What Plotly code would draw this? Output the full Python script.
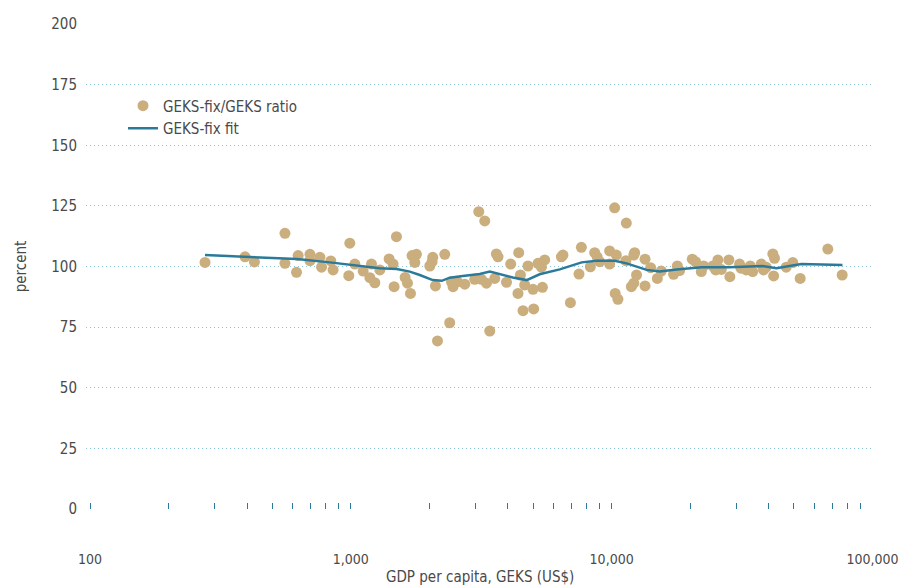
import numpy as np
import plotly.graph_objects as go

# GDP per capita (GEKS, US$) and the GEKS-fix / GEKS ratio (percent), one entry per economy
gdp = [
    276, 393, 427, 559, 559, 619, 628, 697, 697, 761,
    772, 838, 855, 991, 982, 1036, 1115, 1200, 1183, 1236,
    1292, 1402, 1452, 1496, 1465, 1615, 1649, 1693, 1717, 1785,
    1759, 2008, 2061, 2049, 2111, 2149, 2292, 2394, 2466, 2431,
    2563, 2735, 2986, 3094, 3262, 3168, 3311, 3410, 3615, 3667,
    3562, 3952, 4102, 4403, 4469, 4642, 4375, 4573, 4995, 5024,
    4778, 5220, 5428, 5380, 5538, 6507, 6416, 6949, 7495, 7655,
    8287, 8609, 8799, 8995, 9824, 9824, 10268, 10424, 10320, 10570,
    11383, 11340, 12250, 12160, 12460, 11900, 12160, 13430, 13430, 14110,
    14970, 15500, 17280, 17860, 18220, 20380, 20980, 22070, 22520, 24440,
    25550, 25060, 26330, 28150, 28400, 30940, 31310, 32820, 34000, 34740,
    37460, 38230, 39150, 41500, 42120, 41800, 46700, 49500, 52840, 67430,
    76550,
]
ratio = [
    101.7, 104.0, 101.9, 113.7, 101.3, 97.6, 104.5, 105.0, 102.4, 103.8,
    99.7, 102.3, 98.6, 109.6, 96.2, 101.0, 98.1, 101.0, 95.4, 93.3,
    98.6, 103.1, 101.0, 112.3, 91.7, 95.5, 93.1, 88.9, 104.5, 105.0,
    101.7, 100.2, 103.8, 102.0, 92.0, 69.3, 105.0, 76.8, 91.7, 93.7,
    93.7, 92.7, 94.7, 122.6, 118.8, 94.7, 93.1, 73.4, 105.2, 104.0,
    95.1, 93.5, 101.0, 105.7, 96.5, 92.4, 88.9, 81.8, 90.6, 82.5,
    100.2, 101.3, 91.4, 99.7, 102.7, 104.7, 104.0, 85.1, 96.9, 107.9,
    99.9, 105.7, 104.0, 102.0, 106.4, 101.0, 124.2, 104.7, 88.9, 86.5,
    117.9, 102.4, 105.7, 104.7, 96.5, 91.7, 93.1, 103.0, 92.0, 99.5,
    95.1, 98.1, 96.8, 100.2, 98.3, 103.0, 102.0, 97.9, 100.2, 100.2,
    102.7, 98.6, 98.8, 102.7, 95.8, 101.0, 99.3, 98.6, 100.2, 97.9,
    101.0, 98.6, 99.7, 105.2, 103.4, 96.1, 99.7, 101.6, 95.1, 107.2,
    96.5,
]

# Smoothed GEKS-fix fit across the income range
fit_gdp = [
    276, 393, 621, 831, 1018, 1112, 1292, 1500, 1683, 1838,
    2061, 2232, 2394, 2686, 3120, 3410, 3724, 4176, 4722, 5297,
    6322, 7674, 8763, 10268, 11414, 13618, 15270, 17744, 22120, 28320,
    37890, 42860, 48080, 53450, 76740,
]
fit_val = [
    104.7, 104.0, 103.1, 101.7, 100.5, 99.9, 99.3, 99.0, 97.9, 96.5,
    94.4, 94.1, 95.4, 96.1, 96.9, 97.9, 96.8, 95.5, 94.4, 96.8,
    98.8, 101.7, 102.4, 102.4, 101.3, 98.6, 97.9, 98.8, 99.7, 99.7,
    100.2, 99.3, 100.2, 101.0, 100.6,
]

y_ticks = [0, 25, 50, 75, 100, 125, 150, 175, 200]
x_major = [100, 1000, 10000, 100000]
x_major_text = ["100", "1,000", "10,000", "100,000"]

FONT = "DejaVu Sans Condensed, Liberation Sans Narrow, Arial Narrow, sans-serif"
TEXT = "#4a4a4a"
TAN = "#cbae7e"
TEAL = "#2b7a99"
GRID = "#8cc5d8"

# every log position 1..9 x 10^k gets a tick; only decades are labelled
tickvals, ticktext = [], []
for d in range(2, 5):
    for m in range(1, 10):
        v = m * 10 ** d
        tickvals.append(v)
        ticktext.append(x_major_text[x_major.index(v)] if v in x_major else "")
tickvals.append(100000)
ticktext.append("100,000")

fig = go.Figure()
fig.add_trace(go.Scatter(
    x=gdp, y=ratio, mode="markers", name="GEKS-fix/GEKS ratio",
    marker=dict(color=TAN, size=11, line=dict(width=0)),
))
fig.add_trace(go.Scatter(
    x=fit_gdp, y=fit_val, mode="lines", name="GEKS-fix fit",
    line=dict(color=TEAL, width=2.5),
))

fig.update_layout(
    width=899, height=585,
    margin=dict(l=86, r=26, t=24, b=76),
    paper_bgcolor="white", plot_bgcolor="white",
    font=dict(family=FONT, size=15, color=TEXT),
    showlegend=True,
    legend=dict(
        x=0.047, y=0.865, xanchor="left", yanchor="top",
        bgcolor="rgba(0,0,0,0)", font=dict(size=15, color=TEXT),
        itemwidth=30, tracegroupgap=0,
    ),
    xaxis=dict(
        type="log", range=[np.log10(96.5), np.log10(100500)],
        tickvals=tickvals, ticktext=ticktext,
        ticks="inside", ticklen=6, tickwidth=1, tickcolor=TEAL,
        showgrid=False, zeroline=False, showline=False,
        ticklabelstandoff=40, ticklabeloverflow="allow", automargin=False,
        tickfont=dict(size=14, color=TEXT),
    ),
    yaxis=dict(
        range=[0, 200], tickvals=y_ticks,
        showgrid=True, gridcolor=GRID, griddash="1px,3px", gridwidth=1,
        zeroline=False, showline=False, ticks="",
        ticklabelstandoff=8, automargin=False,
        tickfont=dict(size=15, color=TEXT),
        title=dict(text="percent", standoff=20, font=dict(size=15, color=TEXT)),
    ),
    annotations=[dict(
        text="GDP per capita, GEKS (US$)", xref="paper", yref="paper",
        x=0.5, y=0, yshift=-68, xanchor="center", yanchor="middle",
        showarrow=False, font=dict(size=15, color=TEXT),
    )],
)

fig.write_html("out.html")
